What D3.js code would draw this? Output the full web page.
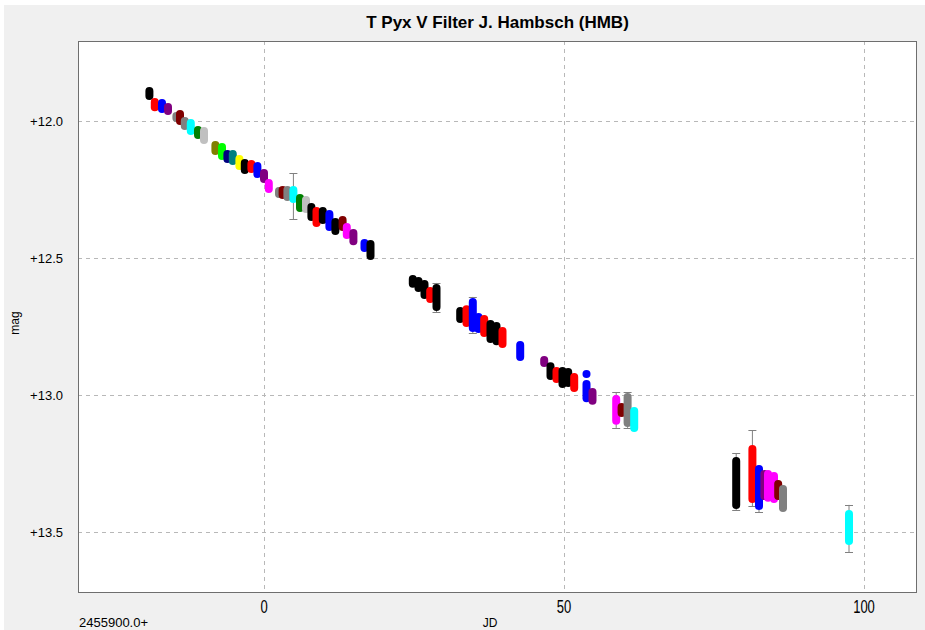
<!DOCTYPE html>
<html lang="en">
<head>
    <meta charset="UTF-8">
    <title>T Pyx V Filter J. Hambsch (HMB)</title>
    <script src="https://d3js.org/d3.v7.min.js"></script>
    <style>
        body { margin: 0; background: #ffffff; }
        svg { display: block; }
    </style>
</head>
<body>

    <div id="chart"></div>

    <script>

// nightly runs: JD - 2455900, brightest and faintest mag of the run, colour
var nightJD = [-19.1, -18.2, -17.0, -16.0, -14.6, -14.0, -13.2, -12.2, -11.0, -10.0,
               -8.1, -7.0, -6.1, -5.2, -4.1, -3.2, -2.1, -1.1, 0.0, 0.8,
               2.5, 3.1, 3.9, 4.9, 6.0, 7.0, 7.9, 8.75, 9.8, 10.9,
               11.9, 13.1, 13.8, 14.9, 16.75, 17.75,
               24.8, 25.75, 26.75, 27.7, 28.75,
               32.7, 33.75, 34.8, 35.75, 36.7, 37.75, 38.75, 39.75,
               42.7, 46.7, 47.75, 48.75, 49.75, 50.7, 51.7, 53.75, 53.75, 54.75,
               58.7, 59.6, 60.6, 61.7,
               78.7, 81.4, 82.5, 83.4, 84.0, 85.0, 85.7, 86.5,
               97.5];
var nightTop = [11.876, 11.916, 11.920, 11.934, 11.967, 11.960, 11.985, 11.993, 12.018, 12.022,
                12.073, 12.080, 12.106, 12.106, 12.124, 12.139, 12.142, 12.150, 12.175, 12.212,
                12.241, 12.237, 12.237, 12.237, 12.266, 12.274, 12.299, 12.314, 12.314, 12.325,
                12.354, 12.347, 12.372, 12.394, 12.431, 12.434,
                12.562, 12.569, 12.580, 12.606, 12.595,
                12.679, 12.672, 12.646, 12.701, 12.708, 12.726, 12.734, 12.752,
                12.803, 12.858, 12.880, 12.898, 12.898, 12.901, 12.920, 12.909, 12.945, 12.974,
                13.000, 13.029, 12.993, 13.044,
                13.226, 13.182, 13.255, 13.274, 13.274, 13.281, 13.310, 13.328,
                13.420];
var nightBottom = [11.923, 11.964, 11.971, 11.978, 12.004, 12.015, 12.033, 12.051, 12.066, 12.084,
                   12.124, 12.142, 12.153, 12.161, 12.179, 12.193, 12.190, 12.208, 12.226, 12.263,
                   12.281, 12.285, 12.292, 12.299, 12.332, 12.336, 12.365, 12.387, 12.376, 12.401,
                   12.416, 12.401, 12.431, 12.453, 12.478, 12.507,
                   12.609, 12.624, 12.650, 12.664, 12.693,
                   12.737, 12.752, 12.770, 12.774, 12.788, 12.810, 12.818, 12.828,
                   12.876, 12.898, 12.945, 12.956, 12.974, 12.971, 12.989, 12.938, 13.026, 13.036,
                   13.109, 13.080, 13.117, 13.135,
                   13.416, 13.394, 13.420, 13.383, 13.390, 13.394, 13.383, 13.427,
                   13.547];
var nightColor = ["#000000", "#ff0000", "#0000ff", "#800080", "#808080", "#800000", "#808080", "#00ffff", "#008000", "#c0c0c0",
                  "#808000", "#00ff00", "#000080", "#008080", "#ffff00", "#000000", "#ff0000", "#0000ff", "#800080", "#ff00ff",
                  "#808080", "#800000", "#808080", "#00ffff", "#008000", "#c0c0c0", "#000000", "#ff0000", "#000000", "#0000ff",
                  "#000000", "#800000", "#ff00ff", "#800080", "#0000ff", "#000000",
                  "#000000", "#000000", "#000000", "#ff0000", "#000000",
                  "#000000", "#ff0000", "#0000ff", "#0000ff", "#ff0000", "#000000", "#000000", "#ff0000",
                  "#0000ff", "#800080", "#000000", "#ff0000", "#000000", "#000000", "#ff0000", "#0000ff", "#0000ff", "#800080",
                  "#ff00ff", "#800000", "#808080", "#00ffff",
                  "#000000", "#ff0000", "#0000ff", "#800080", "#ff00ff", "#ff00ff", "#800000", "#808080",
                  "#00ffff"];

// error bars (grey, drawn behind the points)
var errJD = [4.9, 28.75, 34.8, 58.7, 60.6, 78.7, 81.4, 82.5, 97.5];
var errTop = [12.190, 12.591, 12.642, 12.989, 12.990, 13.212, 13.128, 13.300, 13.401];
var errBottom = [12.358, 12.697, 12.774, 13.120, 13.120, 13.420, 13.405, 13.427, 13.573];

var xTicks = [0, 50, 100];
var yTicks = [12.0, 12.5, 13.0, 13.5];
var yTickLabels = ["+12.0", "+12.5", "+13.0", "+13.5"];

const width = 925;
const height = 630;
const plot = { left: 78, right: 917, top: 41, bottom: 593 };

const svg = d3.select("#chart")
    .append("svg")
    .attr("width", width)
    .attr("height", height);

// window background
svg.append("rect")
    .attr("x", 4).attr("y", 5)
    .attr("width", width - 4).attr("height", height - 5)
    .attr("fill", "#f0f0f0");

// scales: 6 px per day, 274 px per magnitude (fainter = lower)
const x = d3.scaleLinear()
    .domain([-31, 108.833])
    .range([plot.left, plot.right]);

const y = d3.scaleLinear()
    .domain([11.708, 13.7226])
    .range([plot.top, plot.bottom]);

svg.append("rect")
    .attr("x", plot.left).attr("y", plot.top)
    .attr("width", plot.right - plot.left).attr("height", plot.bottom - plot.top)
    .attr("fill", "#ffffff");

svg.append("defs").append("clipPath")
    .attr("id", "clip")
    .append("rect")
    .attr("x", plot.left).attr("y", plot.top)
    .attr("width", plot.right - plot.left).attr("height", plot.bottom - plot.top);

// dashed grid
const grid = svg.append("g")
    .attr("stroke", "#b8b8b8")
    .attr("stroke-width", 1)
    .attr("stroke-dasharray", "4,4");

grid.selectAll("line.v")
    .data(xTicks)
    .enter().append("line")
    .attr("class", "v")
    .attr("x1", d => Math.round(x(d)) + 0.5)
    .attr("x2", d => Math.round(x(d)) + 0.5)
    .attr("y1", plot.top)
    .attr("y2", plot.bottom);

grid.selectAll("line.h")
    .data(yTicks)
    .enter().append("line")
    .attr("class", "h")
    .attr("x1", plot.left)
    .attr("x2", plot.right)
    .attr("y1", d => Math.round(y(d)) + 0.5)
    .attr("y2", d => Math.round(y(d)) + 0.5);

const marks = svg.append("g").attr("clip-path", "url(#clip)");

// error bars
const errs = errJD.map((d, i) => ({ jd: d, top: errTop[i], bottom: errBottom[i] }));
const eb = marks.append("g")
    .attr("stroke", "#808080")
    .attr("stroke-width", 1);

eb.selectAll("line.stem")
    .data(errs)
    .enter().append("line")
    .attr("x1", d => x(d.jd)).attr("x2", d => x(d.jd))
    .attr("y1", d => y(d.top)).attr("y2", d => y(d.bottom));

eb.selectAll("line.capTop")
    .data(errs)
    .enter().append("line")
    .attr("x1", d => x(d.jd) - 4).attr("x2", d => x(d.jd) + 4)
    .attr("y1", d => Math.round(y(d.top)) + 0.5).attr("y2", d => Math.round(y(d.top)) + 0.5);

eb.selectAll("line.capBottom")
    .data(errs)
    .enter().append("line")
    .attr("x1", d => x(d.jd) - 4).attr("x2", d => x(d.jd) + 4)
    .attr("y1", d => Math.round(y(d.bottom)) + 0.5).attr("y2", d => Math.round(y(d.bottom)) + 0.5);

// each night's observations stack up into a rounded column
const nights = nightJD.map((d, i) => ({ jd: d, top: nightTop[i], bottom: nightBottom[i], color: nightColor[i] }));
marks.selectAll("rect.night")
    .data(nights)
    .enter().append("rect")
    .attr("class", "night")
    .attr("x", d => x(d.jd) - 4)
    .attr("width", 8)
    .attr("y", d => y(d.top))
    .attr("height", d => y(d.bottom) - y(d.top))
    .attr("rx", 4)
    .attr("fill", d => d.color);

// frame
svg.append("rect")
    .attr("x", plot.left + 0.5).attr("y", plot.top + 0.5)
    .attr("width", plot.right - plot.left - 1).attr("height", plot.bottom - plot.top - 1)
    .attr("fill", "none")
    .attr("stroke", "#6e6e6e")
    .attr("stroke-width", 1);

// y tick labels
svg.selectAll("text.ylab")
    .data(yTicks)
    .enter().append("text")
    .attr("x", 63)
    .attr("y", d => y(d) + 4.5)
    .attr("text-anchor", "end")
    .attr("font-family", "Liberation Sans, Arial, sans-serif")
    .attr("font-size", 13)
    .attr("fill", "#000")
    .text((d, i) => yTickLabels[i]);

// x tick labels (tall, narrow in the original)
svg.selectAll("text.xlab")
    .data(xTicks)
    .enter().append("text")
    .attr("transform", d => `translate(${x(d)},613) scale(1,1.4)`)
    .attr("text-anchor", "middle")
    .attr("font-family", "Liberation Sans, Arial, sans-serif")
    .attr("font-size", 13)
    .attr("fill", "#000")
    .text(d => d);

svg.append("text")
    .attr("x", 79).attr("y", 627)
    .attr("font-family", "Liberation Sans, Arial, sans-serif")
    .attr("font-size", 13)
    .text("2455900.0+");

svg.append("text")
    .attr("x", 490).attr("y", 627)
    .attr("text-anchor", "middle")
    .attr("font-family", "Liberation Sans, Arial, sans-serif")
    .attr("font-size", 12)
    .text("JD");

svg.append("text")
    .attr("transform", "translate(19,323) rotate(-90)")
    .attr("text-anchor", "middle")
    .attr("font-family", "Liberation Sans, Arial, sans-serif")
    .attr("font-size", 12)
    .text("mag");

// title
svg.append("text")
    .attr("x", (plot.left + plot.right) / 2)
    .attr("y", 28)
    .attr("text-anchor", "middle")
    .attr("font-family", "Liberation Sans, Arial, sans-serif")
    .attr("font-weight", "bold")
    .attr("font-size", 17)
    .text("T Pyx V Filter J. Hambsch (HMB)");

    </script>
</body>
</html>
